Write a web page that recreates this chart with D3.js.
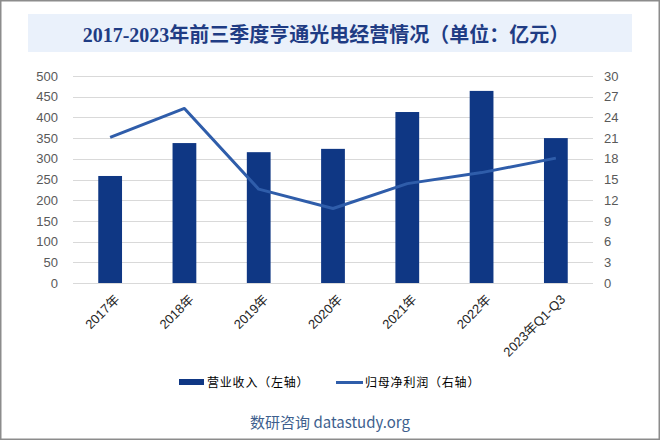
<!DOCTYPE html>
<html><head><meta charset="utf-8">
<script src="https://cdn.jsdelivr.net/npm/d3@7/dist/d3.min.js"></script>
<style>
html,body{margin:0;padding:0;background:#fff;}
svg{display:block;}
</style></head>
<body>
<svg id="chart" width="660" height="440"></svg>
<script>
const categories = ["2017年","2018年","2019年","2020年","2021年","2022年","2023年Q1-Q3"];
const revenue = [258.5, 338, 316, 324, 413, 464, 350];
const netProfit = [21.1, 25.3, 13.6, 10.8, 14.4, 16.0, 18.1];
const leftTicks = [0,50,100,150,200,250,300,350,400,450,500];
const rightTicks = [0,3,6,9,12,15,18,21,24,27,30];
const titleText = "2017-2023年前三季度亨通光电经营情况（单位：亿元）";
const legendLabels = ["营业收入（左轴）","归母净利润（右轴）"];
const sourceText = "数研咨询 datastudy.org";

const W = 660, H = 440;
const m = {left:73, right:67, top:76, bottom:157};
const svg = d3.select("#chart");
const barColor = "#0F3784", lineColor = "#2F5DAA", gridColor = "#D9D9D9";
const sans = "Arial, 'Liberation Sans', 'Noto Sans CJK SC', sans-serif";

svg.append("rect").attr("x",0.75).attr("y",0.75).attr("width",W-1.5).attr("height",H-1.5)
  .attr("fill","#fff").attr("stroke","#8c8c8c").attr("stroke-width",1.5);

// title box
svg.append("rect").attr("x",28).attr("y",14).attr("width",604).attr("height",38).attr("fill","#EAF1FB");
svg.append("text").attr("x",326).attr("y",41.5).attr("text-anchor","middle")
  .attr("font-family","'Liberation Serif','Noto Sans CJK SC',serif").attr("font-weight","bold")
  .attr("font-size",20).attr("fill","#1F3C84").text(titleText);

const x = d3.scaleBand().domain(categories).range([m.left, W-m.right]).paddingInner(0.68).paddingOuter(0.34);
const yL = d3.scaleLinear().domain([0,500]).range([H-m.bottom, m.top]);
const yR = d3.scaleLinear().domain([0,30]).range([H-m.bottom, m.top]);

// grid
svg.append("g").selectAll("line").data(leftTicks).join("line")
  .attr("x1",m.left).attr("x2",W-m.right)
  .attr("y1",d=>Math.round(yL(d))+0.5).attr("y2",d=>Math.round(yL(d))+0.5)
  .attr("stroke",gridColor).attr("stroke-width",1);

// left axis
const gl = svg.append("g").attr("transform",`translate(${m.left},0)`)
  .call(d3.axisLeft(yL).tickValues(leftTicks).tickSize(0).tickPadding(15));
gl.select(".domain").remove();
gl.selectAll("text").attr("font-family",sans).attr("font-size",13).attr("fill","#595959");

// right axis
const gr = svg.append("g").attr("transform",`translate(${W-m.right},0)`)
  .call(d3.axisRight(yR).tickValues(rightTicks).tickSize(0).tickPadding(11));
gr.select(".domain").remove();
gr.selectAll("text").attr("font-family",sans).attr("font-size",13).attr("fill","#595959");

// bars
svg.append("g").selectAll("rect").data(revenue).join("rect")
  .attr("x",(d,i)=>x(categories[i])).attr("width",x.bandwidth())
  .attr("y",d=>yL(d)).attr("height",d=>yL(0)-yL(d)).attr("fill",barColor);

// line
const line = d3.line().x((d,i)=>x(categories[i])+x.bandwidth()/2).y(d=>yR(d));
svg.append("path").datum(netProfit).attr("d",line).attr("fill","none")
  .attr("stroke",lineColor).attr("stroke-width",3).attr("stroke-linejoin","round");

// x labels
svg.append("g").selectAll("text").data(categories).join("text")
  .attr("transform",d=>`translate(${x(d)+x.bandwidth()/2+7},${H-m.bottom+14}) rotate(-45)`)
  .attr("text-anchor","end").attr("dy","0.35em")
  .attr("font-family",sans).attr("font-size",13).attr("fill","#262626").text(d=>d);

// legend
const lg = svg.append("g");
lg.append("rect").attr("x",179).attr("y",379).attr("width",25).attr("height",6).attr("fill",barColor);
lg.append("text").attr("x",207).attr("y",386.5).attr("font-family","'Noto Sans CJK SC',sans-serif")
  .attr("font-size",12).attr("letter-spacing",0.8).attr("fill","#000").text(legendLabels[0]);
lg.append("line").attr("x1",336).attr("x2",363).attr("y1",382.5).attr("y2",382.5)
  .attr("stroke",lineColor).attr("stroke-width",3);
lg.append("text").attr("x",365).attr("y",386.5).attr("font-family","'Noto Sans CJK SC',sans-serif")
  .attr("font-size",12).attr("letter-spacing",0.8).attr("fill","#000").text(legendLabels[1]);

// source
svg.append("text").attr("x",330).attr("y",428).attr("text-anchor","middle")
  .attr("font-family","'Noto Sans CJK SC',sans-serif").attr("font-size",15)
  .attr("fill","#3E5F8E").text(sourceText);
</script>
</body></html>
